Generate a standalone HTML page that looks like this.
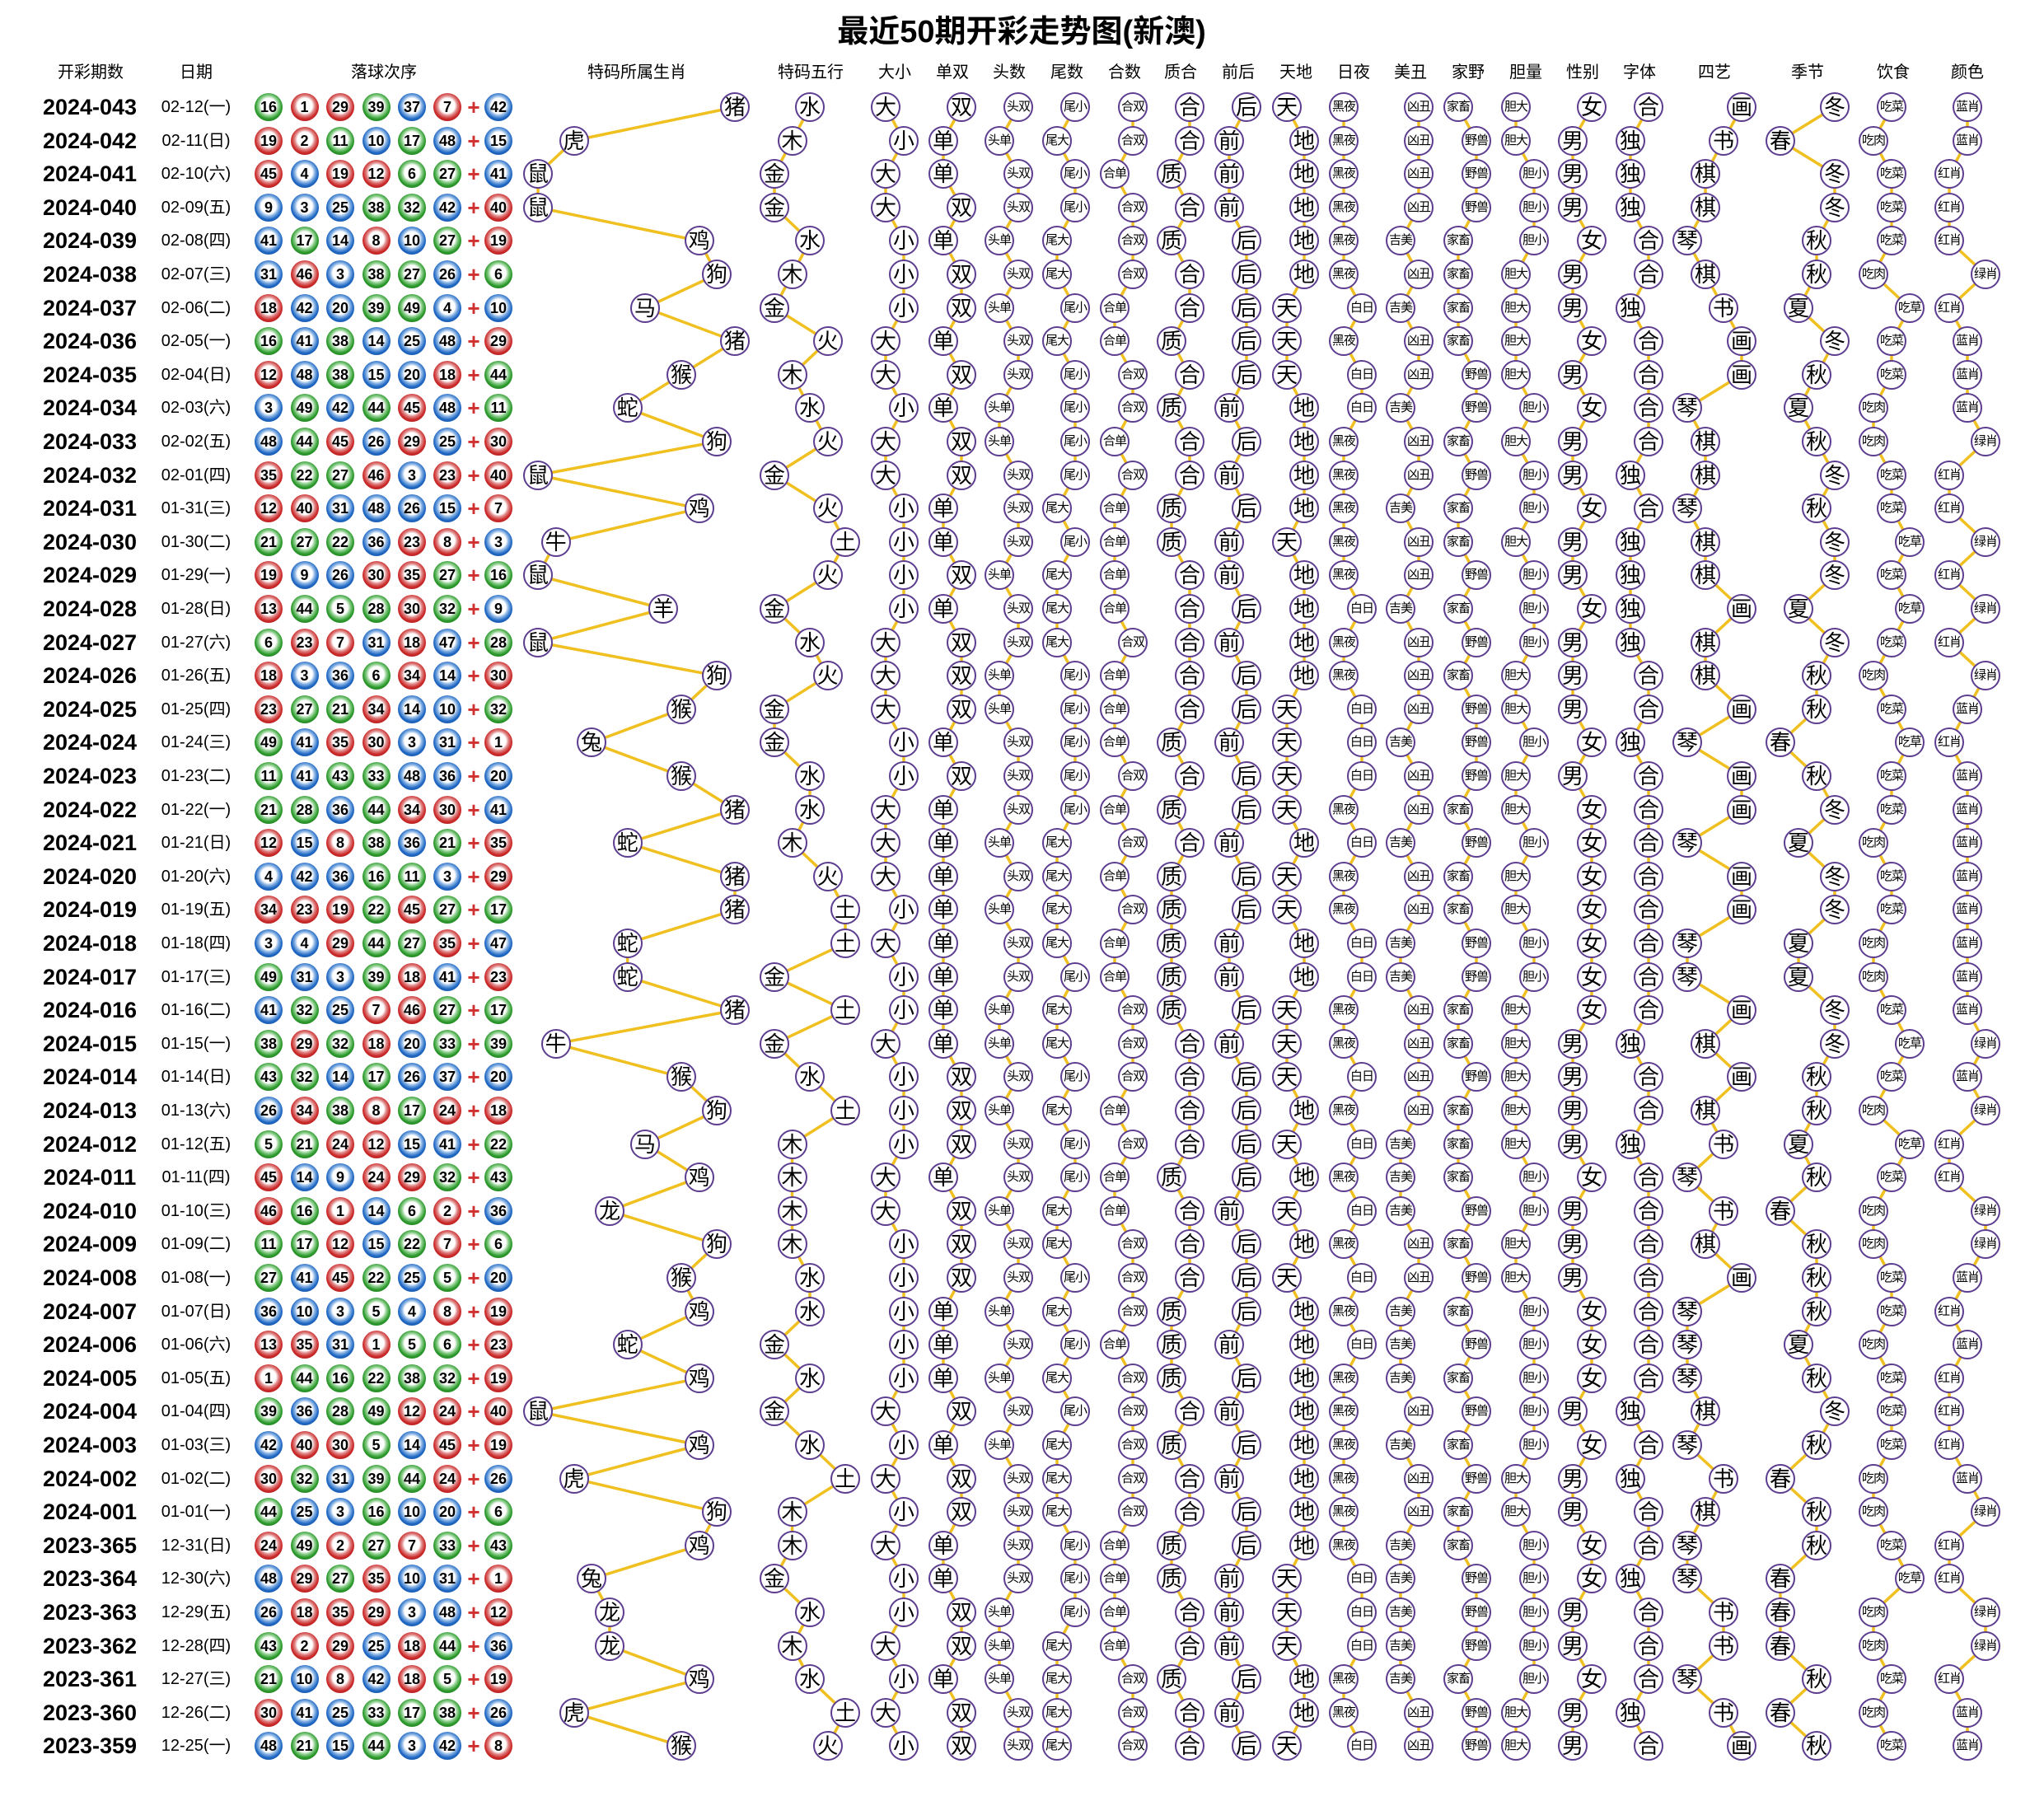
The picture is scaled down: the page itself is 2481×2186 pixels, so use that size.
<!DOCTYPE html>
<html><head><meta charset="utf-8">
<style>
body{margin:0;background:#fff;width:2481px;height:2186px;position:relative;overflow:hidden;font-family:"Liberation Sans","Noto Sans CJK SC",sans-serif;color:#000}
.t{position:absolute;left:940px;width:600px;top:14px;text-align:center;font:bold 38px/50px "Liberation Sans","Noto Sans CJK SC",sans-serif}
.h{position:absolute;top:76px;width:200px;margin-left:-100px;text-align:center;font:20px/24px "Liberation Sans","Noto Sans CJK SC",sans-serif}
svg{position:absolute;left:0;top:0}
svg polyline{fill:none;stroke:#f0c020;stroke-width:3.5px;vector-effect:non-scaling-stroke;stroke-linejoin:round}
.r{position:absolute;left:0;height:0;width:2481px}
.r *{position:absolute}
.p{left:39px;width:140px;top:-17px;text-align:center;font:bold 27px/34px "Liberation Sans",sans-serif}
.d{left:178px;width:120px;top:-14px;text-align:center;font:20px/28px "Liberation Sans","Noto Sans CJK SC",sans-serif}
.r u{text-decoration:none;width:34px;height:34px;top:-17px;margin-left:-17px;border-radius:50%;text-align:center;font:bold 18px/34px "Liberation Sans",sans-serif;color:#000}
.r u.R{background:radial-gradient(circle at 50% 45%,#fff 0,#fff 36%,#e08a8a 48%,#cc2a2a 64%,#8e1010 100%)}
.r u.U{background:radial-gradient(circle at 50% 45%,#fff 0,#fff 36%,#8ab4e4 48%,#2068c4 64%,#0f4282 100%)}
.r u.G{background:radial-gradient(circle at 50% 45%,#fff 0,#fff 36%,#90d090 48%,#2c9a2c 64%,#156015 100%)}
.r u:nth-of-type(1){left:326px}.r u:nth-of-type(2){left:369.5px}.r u:nth-of-type(3){left:413px}.r u:nth-of-type(4){left:456.5px}.r u:nth-of-type(5){left:500px}.r u:nth-of-type(6){left:543px}.r u:nth-of-type(7){left:605px}
.r s{text-decoration:none;left:565px;width:20px;top:-15px;text-align:center;color:#d03030;font:bold 26px/30px "Liberation Sans",sans-serif}
.r i{font-style:normal;width:32px;height:32px;top:-18px;margin-left:-18px;border:2px solid #5c3d8f;border-radius:50%;background:#fff;text-align:center;font:26px/32px "Liberation Sans","Noto Sans CJK SC",sans-serif;white-space:nowrap;overflow:hidden}
.Z0,.Z1,.Z2,.Z3,.Z4,.Z5,.Z6,.Z7,.Z8,.Z9,.Z10,.Z11,.G0,.G1,.O0,.O1{font-weight:bold}
.C0,.C1,.D0,.D1,.E0,.E1,.J0,.J1,.K0,.K1,.L0,.L1,.M0,.M1,.S0,.S1,.S2,.T0,.T1,.T2{font-size:15px!important;letter-spacing:-1px;font-weight:bold}
.J0,.J1,.K0,.K1,.M0,.M1,.T0,.T1,.T2{font-weight:normal}
.Z0{left:653px}.Z1{left:674.7px}.Z2{left:696.5px}.Z3{left:718px}.Z4{left:740px}.Z5{left:761.6px}.Z6{left:783px}.Z7{left:805px}.Z8{left:827px}.Z9{left:848.6px}.Z10{left:870px}.Z11{left:892px}
.W0{left:940px}.W1{left:961.5px}.W2{left:983px}.W3{left:1004.5px}.W4{left:1026px}
.A0{left:1075px}.A1{left:1097px}.B0{left:1145px}.B1{left:1167px}.C0{left:1213px}.C1{left:1236px}.D0{left:1283px}.D1{left:1305px}.E0{left:1353px}.E1{left:1375px}.F0{left:1422px}.F1{left:1444px}.G0{left:1492px}.G1{left:1513px}.H0{left:1562px}.H1{left:1583px}.J0{left:1631px}.J1{left:1653px}.K0{left:1700px}.K1{left:1722px}.L0{left:1770px}.L1{left:1792px}.M0{left:1840px}.M1{left:1862px}.N0{left:1909px}.N1{left:1932px}.O0{left:1979px}.O1{left:2001px}
.P0{left:2048px}.P1{left:2070px}.P2{left:2092px}.P3{left:2114px}.Q0{left:2161px}.Q1{left:2183px}.Q2{left:2205px}.Q3{left:2227px}.S0{left:2274px}.S1{left:2296px}.S2{left:2318px}.T0{left:2366px}.T1{left:2388px}.T2{left:2410px}
</style></head><body>
<div class="t">最近50期开彩走势图(新澳)</div>
<div class="h" style="left:110px">开彩期数</div><div class="h" style="left:238px">日期</div><div class="h" style="left:466px">落球次序</div><div class="h" style="left:773px">特码所属生肖</div><div class="h" style="left:984px">特码五行</div><div class="h" style="left:1086px">大小</div><div class="h" style="left:1156px">单双</div><div class="h" style="left:1225px">头数</div><div class="h" style="left:1295px">尾数</div><div class="h" style="left:1365px">合数</div><div class="h" style="left:1433px">质合</div><div class="h" style="left:1503px">前后</div><div class="h" style="left:1573px">天地</div><div class="h" style="left:1643px">日夜</div><div class="h" style="left:1712px">美丑</div><div class="h" style="left:1782px">家野</div><div class="h" style="left:1852px">胆量</div><div class="h" style="left:1921px">性别</div><div class="h" style="left:1990px">字体</div><div class="h" style="left:2081px">四艺</div><div class="h" style="left:2194px">季节</div><div class="h" style="left:2298px">饮食</div><div class="h" style="left:2388px">颜色</div>
<svg width="2481" height="2186">
<polyline transform="translate(653,130) scale(21.73,40.6)" points="11,0 2,1 0,2 0,3 9,4 10,5 6,6 11,7 8,8 5,9 10,10 0,11 9,12 1,13 0,14 7,15 0,16 10,17 8,18 3,19 8,20 11,21 5,22 11,23 11,24 5,25 5,26 11,27 1,28 8,29 10,30 6,31 9,32 4,33 10,34 8,35 9,36 5,37 9,38 0,39 9,40 2,41 10,42 9,43 3,44 4,45 4,46 9,47 2,48 8,49"/>
<polyline transform="translate(940,130) scale(21.5,40.6)" points="2,0 1,1 0,2 0,3 2,4 1,5 0,6 3,7 1,8 2,9 3,10 0,11 3,12 4,13 3,14 0,15 2,16 3,17 0,18 0,19 2,20 2,21 1,22 3,23 4,24 4,25 0,26 4,27 0,28 2,29 4,30 1,31 1,32 1,33 1,34 2,35 2,36 0,37 2,38 0,39 2,40 4,41 1,42 1,43 0,44 2,45 1,46 2,47 4,48 3,49"/>
<polyline transform="translate(1075,130) scale(22,40.6)" points="0,0 1,1 0,2 0,3 1,4 1,5 1,6 0,7 0,8 1,9 0,10 0,11 1,12 1,13 1,14 1,15 0,16 0,17 0,18 1,19 1,20 0,21 0,22 0,23 1,24 0,25 1,26 1,27 0,28 1,29 1,30 1,31 0,32 0,33 1,34 1,35 1,36 1,37 1,38 0,39 1,40 0,41 1,42 0,43 1,44 1,45 0,46 1,47 0,48 1,49"/>
<polyline transform="translate(1145,130) scale(22,40.6)" points="1,0 0,1 0,2 1,3 0,4 1,5 1,6 0,7 1,8 0,9 1,10 1,11 0,12 0,13 1,14 0,15 1,16 1,17 1,18 0,19 1,20 0,21 0,22 0,23 0,24 0,25 0,26 0,27 0,28 1,29 1,30 1,31 0,32 1,33 1,34 1,35 0,36 0,37 0,38 1,39 0,40 1,41 1,42 0,43 0,44 1,45 1,46 0,47 1,48 1,49"/>
<polyline transform="translate(1213,130) scale(23,40.6)" points="1,0 0,1 1,2 1,3 0,4 1,5 0,6 1,7 1,8 0,9 0,10 1,11 1,12 1,13 0,14 1,15 1,16 0,17 0,18 1,19 1,20 1,21 0,22 1,23 0,24 1,25 1,26 0,27 0,28 1,29 0,30 1,31 1,32 0,33 1,34 1,35 0,36 1,37 0,38 1,39 0,40 1,41 1,42 1,43 1,44 0,45 0,46 0,47 1,48 1,49"/>
<polyline transform="translate(1283,130) scale(22,40.6)" points="1,0 0,1 1,2 1,3 0,4 0,5 1,6 0,7 1,8 1,9 1,10 1,11 0,12 1,13 0,14 0,15 0,16 1,17 1,18 1,19 1,20 1,21 0,22 0,23 0,24 0,25 1,26 0,27 0,28 1,29 0,30 1,31 1,32 0,33 0,34 1,35 0,36 1,37 0,38 1,39 0,40 0,41 0,42 1,43 1,44 1,45 0,46 0,47 0,48 0,49"/>
<polyline transform="translate(1353,130) scale(22,40.6)" points="1,0 1,1 0,2 1,3 1,4 1,5 0,6 0,7 1,8 1,9 0,10 1,11 0,12 0,13 0,14 0,15 1,16 0,17 0,18 0,19 1,20 0,21 1,22 0,23 1,24 0,25 0,26 1,27 1,28 1,29 0,30 1,31 0,32 0,33 1,34 1,35 1,36 0,37 1,38 1,39 1,40 1,41 1,42 0,43 0,44 0,45 0,46 1,47 1,48 1,49"/>
<polyline transform="translate(1422,130) scale(22,40.6)" points="1,0 1,1 0,2 1,3 0,4 1,5 1,6 0,7 1,8 0,9 1,10 1,11 0,12 0,13 1,14 1,15 1,16 1,17 1,18 0,19 1,20 0,21 1,22 0,23 0,24 0,25 0,26 0,27 1,28 1,29 1,30 1,31 0,32 1,33 1,34 1,35 0,36 0,37 0,38 1,39 0,40 1,41 1,42 0,43 0,44 1,45 1,46 0,47 1,48 1,49"/>
<polyline transform="translate(1492,130) scale(21,40.6)" points="1,0 0,1 0,2 0,3 1,4 1,5 1,6 1,7 1,8 0,9 1,10 0,11 1,12 0,13 0,14 1,15 0,16 1,17 1,18 0,19 1,20 1,21 0,22 1,23 1,24 0,25 0,26 1,27 0,28 1,29 1,30 1,31 1,32 0,33 1,34 1,35 1,36 0,37 1,38 0,39 1,40 0,41 1,42 1,43 0,44 0,45 0,46 1,47 0,48 1,49"/>
<polyline transform="translate(1562,130) scale(21,40.6)" points="0,0 1,1 1,2 1,3 1,4 1,5 0,6 0,7 0,8 1,9 1,10 1,11 1,12 0,13 1,14 1,15 1,16 1,17 0,18 0,19 0,20 0,21 1,22 0,23 0,24 1,25 1,26 0,27 0,28 0,29 1,30 0,31 1,32 0,33 1,34 0,35 1,36 1,37 1,38 1,39 1,40 1,41 1,42 1,43 0,44 0,45 0,46 1,47 1,48 0,49"/>
<polyline transform="translate(1631,130) scale(22,40.6)" points="0,0 0,1 0,2 0,3 0,4 0,5 1,6 0,7 1,8 1,9 0,10 0,11 0,12 0,13 0,14 1,15 0,16 0,17 1,18 1,19 1,20 0,21 1,22 0,23 0,24 1,25 1,26 0,27 0,28 1,29 0,30 1,31 0,32 1,33 0,34 1,35 0,36 1,37 0,38 0,39 0,40 0,41 0,42 0,43 1,44 1,45 1,46 0,47 0,48 1,49"/>
<polyline transform="translate(1700,130) scale(22,40.6)" points="1,0 1,1 1,2 1,3 0,4 1,5 0,6 1,7 1,8 0,9 1,10 1,11 0,12 1,13 1,14 0,15 1,16 1,17 1,18 0,19 1,20 1,21 0,22 1,23 1,24 0,25 0,26 1,27 1,28 1,29 1,30 0,31 0,32 0,33 1,34 1,35 0,36 0,37 0,38 1,39 0,40 1,41 1,42 0,43 0,44 0,45 0,46 0,47 1,48 1,49"/>
<polyline transform="translate(1770,130) scale(22,40.6)" points="0,0 1,1 1,2 1,3 0,4 0,5 0,6 0,7 1,8 1,9 0,10 1,11 0,12 0,13 1,14 0,15 1,16 0,17 1,18 1,19 1,20 0,21 1,22 0,23 0,24 1,25 1,26 0,27 0,28 1,29 0,30 0,31 0,32 1,33 0,34 1,35 0,36 1,37 0,38 1,39 0,40 1,41 0,42 0,43 1,44 1,45 1,46 0,47 1,48 1,49"/>
<polyline transform="translate(1840,130) scale(22,40.6)" points="0,0 0,1 1,2 1,3 1,4 0,5 0,6 0,7 0,8 1,9 0,10 1,11 1,12 0,13 1,14 1,15 1,16 0,17 0,18 1,19 0,20 0,21 1,22 0,23 0,24 1,25 1,26 0,27 0,28 0,29 0,30 0,31 1,32 1,33 0,34 0,35 1,36 1,37 1,38 1,39 1,40 0,41 0,42 1,43 1,44 1,45 1,46 1,47 0,48 0,49"/>
<polyline transform="translate(1909,130) scale(23,40.6)" points="1,0 0,1 0,2 0,3 1,4 0,5 0,6 1,7 0,8 1,9 0,10 0,11 1,12 0,13 0,14 1,15 0,16 0,17 0,18 1,19 0,20 1,21 1,22 1,23 1,24 1,25 1,26 1,27 0,28 0,29 0,30 0,31 1,32 0,33 0,34 0,35 1,36 1,37 1,38 0,39 1,40 0,41 0,42 1,43 1,44 0,45 0,46 1,47 0,48 0,49"/>
<polyline transform="translate(1979,130) scale(22,40.6)" points="1,0 0,1 0,2 0,3 1,4 1,5 0,6 1,7 1,8 1,9 1,10 0,11 1,12 0,13 0,14 0,15 0,16 1,17 1,18 0,19 1,20 1,21 1,22 1,23 1,24 1,25 1,26 1,27 0,28 1,29 1,30 0,31 1,32 1,33 1,34 1,35 1,36 1,37 1,38 0,39 1,40 0,41 1,42 1,43 0,44 1,45 1,46 1,47 0,48 1,49"/>
<polyline transform="translate(2048,130) scale(22,40.6)" points="3,0 2,1 1,2 1,3 0,4 1,5 2,6 3,7 3,8 0,9 1,10 1,11 0,12 1,13 1,14 3,15 1,16 1,17 3,18 0,19 3,20 3,21 0,22 3,23 3,24 0,25 0,26 3,27 1,28 3,29 1,30 2,31 0,32 2,33 1,34 3,35 0,36 0,37 0,38 1,39 0,40 2,41 1,42 0,43 0,44 2,45 2,46 0,47 2,48 3,49"/>
<polyline transform="translate(2161,130) scale(22,40.6)" points="3,0 0,1 3,2 3,3 2,4 2,5 1,6 3,7 2,8 1,9 2,10 3,11 2,12 3,13 3,14 1,15 3,16 2,17 2,18 0,19 2,20 3,21 1,22 3,23 3,24 1,25 1,26 3,27 3,28 2,29 2,30 1,31 2,32 0,33 2,34 2,35 2,36 1,37 2,38 3,39 2,40 0,41 2,42 2,43 0,44 0,45 0,46 2,47 0,48 2,49"/>
<polyline transform="translate(2274,130) scale(22,40.6)" points="1,0 0,1 1,2 1,3 1,4 0,5 2,6 1,7 1,8 0,9 0,10 1,11 1,12 2,13 1,14 2,15 1,16 0,17 1,18 2,19 1,20 1,21 0,22 1,23 1,24 0,25 0,26 1,27 2,28 1,29 0,30 2,31 1,32 0,33 0,34 1,35 1,36 0,37 1,38 1,39 1,40 0,41 0,42 1,43 2,44 0,45 0,46 1,47 0,48 1,49"/>
<polyline transform="translate(2366,130) scale(22,40.6)" points="1,0 1,1 0,2 0,3 0,4 2,5 0,6 1,7 1,8 1,9 2,10 0,11 0,12 2,13 0,14 2,15 0,16 2,17 1,18 0,19 1,20 1,21 1,22 1,23 1,24 1,25 1,26 1,27 2,28 1,29 2,30 0,31 0,32 2,33 2,34 1,35 0,36 1,37 0,38 0,39 0,40 1,41 2,42 0,43 0,44 2,45 2,46 0,47 1,48 1,49"/>
</svg>

<div class="r" style="top:130px"><b class="p">2024-043</b><b class="d">02-12(一)</b><u class="G">16</u><u class="R">1</u><u class="R">29</u><u class="G">39</u><u class="U">37</u><u class="R">7</u><s>+</s><u class="U">42</u><i class="Z11">猪</i><i class="W2">水</i><i class="A0">大</i><i class="B1">双</i><i class="C1">头双</i><i class="D1">尾小</i><i class="E1">合双</i><i class="F1">合</i><i class="G1">后</i><i class="H0">天</i><i class="J0">黑夜</i><i class="K1">凶丑</i><i class="L0">家畜</i><i class="M0">胆大</i><i class="N1">女</i><i class="O1">合</i><i class="P3">画</i><i class="Q3">冬</i><i class="S1">吃菜</i><i class="T1">蓝肖</i></div>
<div class="r" style="top:170.6px"><b class="p">2024-042</b><b class="d">02-11(日)</b><u class="R">19</u><u class="R">2</u><u class="G">11</u><u class="U">10</u><u class="G">17</u><u class="U">48</u><s>+</s><u class="U">15</u><i class="Z2">虎</i><i class="W1">木</i><i class="A1">小</i><i class="B0">单</i><i class="C0">头单</i><i class="D0">尾大</i><i class="E1">合双</i><i class="F1">合</i><i class="G0">前</i><i class="H1">地</i><i class="J0">黑夜</i><i class="K1">凶丑</i><i class="L1">野兽</i><i class="M0">胆大</i><i class="N0">男</i><i class="O0">独</i><i class="P2">书</i><i class="Q0">春</i><i class="S0">吃肉</i><i class="T1">蓝肖</i></div>
<div class="r" style="top:211.2px"><b class="p">2024-041</b><b class="d">02-10(六)</b><u class="R">45</u><u class="U">4</u><u class="R">19</u><u class="R">12</u><u class="G">6</u><u class="G">27</u><s>+</s><u class="U">41</u><i class="Z0">鼠</i><i class="W0">金</i><i class="A0">大</i><i class="B0">单</i><i class="C1">头双</i><i class="D1">尾小</i><i class="E0">合单</i><i class="F0">质</i><i class="G0">前</i><i class="H1">地</i><i class="J0">黑夜</i><i class="K1">凶丑</i><i class="L1">野兽</i><i class="M1">胆小</i><i class="N0">男</i><i class="O0">独</i><i class="P1">棋</i><i class="Q3">冬</i><i class="S1">吃菜</i><i class="T0">红肖</i></div>
<div class="r" style="top:251.8px"><b class="p">2024-040</b><b class="d">02-09(五)</b><u class="U">9</u><u class="U">3</u><u class="U">25</u><u class="G">38</u><u class="G">32</u><u class="U">42</u><s>+</s><u class="R">40</u><i class="Z0">鼠</i><i class="W0">金</i><i class="A0">大</i><i class="B1">双</i><i class="C1">头双</i><i class="D1">尾小</i><i class="E1">合双</i><i class="F1">合</i><i class="G0">前</i><i class="H1">地</i><i class="J0">黑夜</i><i class="K1">凶丑</i><i class="L1">野兽</i><i class="M1">胆小</i><i class="N0">男</i><i class="O0">独</i><i class="P1">棋</i><i class="Q3">冬</i><i class="S1">吃菜</i><i class="T0">红肖</i></div>
<div class="r" style="top:292.4px"><b class="p">2024-039</b><b class="d">02-08(四)</b><u class="U">41</u><u class="G">17</u><u class="U">14</u><u class="R">8</u><u class="U">10</u><u class="G">27</u><s>+</s><u class="R">19</u><i class="Z9">鸡</i><i class="W2">水</i><i class="A1">小</i><i class="B0">单</i><i class="C0">头单</i><i class="D0">尾大</i><i class="E1">合双</i><i class="F0">质</i><i class="G1">后</i><i class="H1">地</i><i class="J0">黑夜</i><i class="K0">吉美</i><i class="L0">家畜</i><i class="M1">胆小</i><i class="N1">女</i><i class="O1">合</i><i class="P0">琴</i><i class="Q2">秋</i><i class="S1">吃菜</i><i class="T0">红肖</i></div>
<div class="r" style="top:333px"><b class="p">2024-038</b><b class="d">02-07(三)</b><u class="U">31</u><u class="R">46</u><u class="U">3</u><u class="G">38</u><u class="G">27</u><u class="U">26</u><s>+</s><u class="G">6</u><i class="Z10">狗</i><i class="W1">木</i><i class="A1">小</i><i class="B1">双</i><i class="C1">头双</i><i class="D0">尾大</i><i class="E1">合双</i><i class="F1">合</i><i class="G1">后</i><i class="H1">地</i><i class="J0">黑夜</i><i class="K1">凶丑</i><i class="L0">家畜</i><i class="M0">胆大</i><i class="N0">男</i><i class="O1">合</i><i class="P1">棋</i><i class="Q2">秋</i><i class="S0">吃肉</i><i class="T2">绿肖</i></div>
<div class="r" style="top:373.6px"><b class="p">2024-037</b><b class="d">02-06(二)</b><u class="R">18</u><u class="U">42</u><u class="U">20</u><u class="G">39</u><u class="G">49</u><u class="U">4</u><s>+</s><u class="U">10</u><i class="Z6">马</i><i class="W0">金</i><i class="A1">小</i><i class="B1">双</i><i class="C0">头单</i><i class="D1">尾小</i><i class="E0">合单</i><i class="F1">合</i><i class="G1">后</i><i class="H0">天</i><i class="J1">白日</i><i class="K0">吉美</i><i class="L0">家畜</i><i class="M0">胆大</i><i class="N0">男</i><i class="O0">独</i><i class="P2">书</i><i class="Q1">夏</i><i class="S2">吃草</i><i class="T0">红肖</i></div>
<div class="r" style="top:414.2px"><b class="p">2024-036</b><b class="d">02-05(一)</b><u class="G">16</u><u class="U">41</u><u class="G">38</u><u class="U">14</u><u class="U">25</u><u class="U">48</u><s>+</s><u class="R">29</u><i class="Z11">猪</i><i class="W3">火</i><i class="A0">大</i><i class="B0">单</i><i class="C1">头双</i><i class="D0">尾大</i><i class="E0">合单</i><i class="F0">质</i><i class="G1">后</i><i class="H0">天</i><i class="J0">黑夜</i><i class="K1">凶丑</i><i class="L0">家畜</i><i class="M0">胆大</i><i class="N1">女</i><i class="O1">合</i><i class="P3">画</i><i class="Q3">冬</i><i class="S1">吃菜</i><i class="T1">蓝肖</i></div>
<div class="r" style="top:454.8px"><b class="p">2024-035</b><b class="d">02-04(日)</b><u class="R">12</u><u class="U">48</u><u class="G">38</u><u class="U">15</u><u class="U">20</u><u class="R">18</u><s>+</s><u class="G">44</u><i class="Z8">猴</i><i class="W1">木</i><i class="A0">大</i><i class="B1">双</i><i class="C1">头双</i><i class="D1">尾小</i><i class="E1">合双</i><i class="F1">合</i><i class="G1">后</i><i class="H0">天</i><i class="J1">白日</i><i class="K1">凶丑</i><i class="L1">野兽</i><i class="M0">胆大</i><i class="N0">男</i><i class="O1">合</i><i class="P3">画</i><i class="Q2">秋</i><i class="S1">吃菜</i><i class="T1">蓝肖</i></div>
<div class="r" style="top:495.4px"><b class="p">2024-034</b><b class="d">02-03(六)</b><u class="U">3</u><u class="G">49</u><u class="U">42</u><u class="G">44</u><u class="R">45</u><u class="U">48</u><s>+</s><u class="G">11</u><i class="Z5">蛇</i><i class="W2">水</i><i class="A1">小</i><i class="B0">单</i><i class="C0">头单</i><i class="D1">尾小</i><i class="E1">合双</i><i class="F0">质</i><i class="G0">前</i><i class="H1">地</i><i class="J1">白日</i><i class="K0">吉美</i><i class="L1">野兽</i><i class="M1">胆小</i><i class="N1">女</i><i class="O1">合</i><i class="P0">琴</i><i class="Q1">夏</i><i class="S0">吃肉</i><i class="T1">蓝肖</i></div>
<div class="r" style="top:536px"><b class="p">2024-033</b><b class="d">02-02(五)</b><u class="U">48</u><u class="G">44</u><u class="R">45</u><u class="U">26</u><u class="R">29</u><u class="U">25</u><s>+</s><u class="R">30</u><i class="Z10">狗</i><i class="W3">火</i><i class="A0">大</i><i class="B1">双</i><i class="C0">头单</i><i class="D1">尾小</i><i class="E0">合单</i><i class="F1">合</i><i class="G1">后</i><i class="H1">地</i><i class="J0">黑夜</i><i class="K1">凶丑</i><i class="L0">家畜</i><i class="M0">胆大</i><i class="N0">男</i><i class="O1">合</i><i class="P1">棋</i><i class="Q2">秋</i><i class="S0">吃肉</i><i class="T2">绿肖</i></div>
<div class="r" style="top:576.6px"><b class="p">2024-032</b><b class="d">02-01(四)</b><u class="R">35</u><u class="G">22</u><u class="G">27</u><u class="R">46</u><u class="U">3</u><u class="R">23</u><s>+</s><u class="R">40</u><i class="Z0">鼠</i><i class="W0">金</i><i class="A0">大</i><i class="B1">双</i><i class="C1">头双</i><i class="D1">尾小</i><i class="E1">合双</i><i class="F1">合</i><i class="G0">前</i><i class="H1">地</i><i class="J0">黑夜</i><i class="K1">凶丑</i><i class="L1">野兽</i><i class="M1">胆小</i><i class="N0">男</i><i class="O0">独</i><i class="P1">棋</i><i class="Q3">冬</i><i class="S1">吃菜</i><i class="T0">红肖</i></div>
<div class="r" style="top:617.2px"><b class="p">2024-031</b><b class="d">01-31(三)</b><u class="R">12</u><u class="R">40</u><u class="U">31</u><u class="U">48</u><u class="U">26</u><u class="U">15</u><s>+</s><u class="R">7</u><i class="Z9">鸡</i><i class="W3">火</i><i class="A1">小</i><i class="B0">单</i><i class="C1">头双</i><i class="D0">尾大</i><i class="E0">合单</i><i class="F0">质</i><i class="G1">后</i><i class="H1">地</i><i class="J0">黑夜</i><i class="K0">吉美</i><i class="L0">家畜</i><i class="M1">胆小</i><i class="N1">女</i><i class="O1">合</i><i class="P0">琴</i><i class="Q2">秋</i><i class="S1">吃菜</i><i class="T0">红肖</i></div>
<div class="r" style="top:657.8px"><b class="p">2024-030</b><b class="d">01-30(二)</b><u class="G">21</u><u class="G">27</u><u class="G">22</u><u class="U">36</u><u class="R">23</u><u class="R">8</u><s>+</s><u class="U">3</u><i class="Z1">牛</i><i class="W4">土</i><i class="A1">小</i><i class="B0">单</i><i class="C1">头双</i><i class="D1">尾小</i><i class="E0">合单</i><i class="F0">质</i><i class="G0">前</i><i class="H0">天</i><i class="J0">黑夜</i><i class="K1">凶丑</i><i class="L0">家畜</i><i class="M0">胆大</i><i class="N0">男</i><i class="O0">独</i><i class="P1">棋</i><i class="Q3">冬</i><i class="S2">吃草</i><i class="T2">绿肖</i></div>
<div class="r" style="top:698.4px"><b class="p">2024-029</b><b class="d">01-29(一)</b><u class="R">19</u><u class="U">9</u><u class="U">26</u><u class="R">30</u><u class="R">35</u><u class="G">27</u><s>+</s><u class="G">16</u><i class="Z0">鼠</i><i class="W3">火</i><i class="A1">小</i><i class="B1">双</i><i class="C0">头单</i><i class="D0">尾大</i><i class="E0">合单</i><i class="F1">合</i><i class="G0">前</i><i class="H1">地</i><i class="J0">黑夜</i><i class="K1">凶丑</i><i class="L1">野兽</i><i class="M1">胆小</i><i class="N0">男</i><i class="O0">独</i><i class="P1">棋</i><i class="Q3">冬</i><i class="S1">吃菜</i><i class="T0">红肖</i></div>
<div class="r" style="top:739px"><b class="p">2024-028</b><b class="d">01-28(日)</b><u class="R">13</u><u class="G">44</u><u class="G">5</u><u class="G">28</u><u class="R">30</u><u class="G">32</u><s>+</s><u class="U">9</u><i class="Z7">羊</i><i class="W0">金</i><i class="A1">小</i><i class="B0">单</i><i class="C1">头双</i><i class="D0">尾大</i><i class="E0">合单</i><i class="F1">合</i><i class="G1">后</i><i class="H1">地</i><i class="J1">白日</i><i class="K0">吉美</i><i class="L0">家畜</i><i class="M1">胆小</i><i class="N1">女</i><i class="O0">独</i><i class="P3">画</i><i class="Q1">夏</i><i class="S2">吃草</i><i class="T2">绿肖</i></div>
<div class="r" style="top:779.6px"><b class="p">2024-027</b><b class="d">01-27(六)</b><u class="G">6</u><u class="R">23</u><u class="R">7</u><u class="U">31</u><u class="R">18</u><u class="U">47</u><s>+</s><u class="G">28</u><i class="Z0">鼠</i><i class="W2">水</i><i class="A0">大</i><i class="B1">双</i><i class="C1">头双</i><i class="D0">尾大</i><i class="E1">合双</i><i class="F1">合</i><i class="G0">前</i><i class="H1">地</i><i class="J0">黑夜</i><i class="K1">凶丑</i><i class="L1">野兽</i><i class="M1">胆小</i><i class="N0">男</i><i class="O0">独</i><i class="P1">棋</i><i class="Q3">冬</i><i class="S1">吃菜</i><i class="T0">红肖</i></div>
<div class="r" style="top:820.2px"><b class="p">2024-026</b><b class="d">01-26(五)</b><u class="R">18</u><u class="U">3</u><u class="U">36</u><u class="G">6</u><u class="R">34</u><u class="U">14</u><s>+</s><u class="R">30</u><i class="Z10">狗</i><i class="W3">火</i><i class="A0">大</i><i class="B1">双</i><i class="C0">头单</i><i class="D1">尾小</i><i class="E0">合单</i><i class="F1">合</i><i class="G1">后</i><i class="H1">地</i><i class="J0">黑夜</i><i class="K1">凶丑</i><i class="L0">家畜</i><i class="M0">胆大</i><i class="N0">男</i><i class="O1">合</i><i class="P1">棋</i><i class="Q2">秋</i><i class="S0">吃肉</i><i class="T2">绿肖</i></div>
<div class="r" style="top:860.8px"><b class="p">2024-025</b><b class="d">01-25(四)</b><u class="R">23</u><u class="G">27</u><u class="G">21</u><u class="R">34</u><u class="U">14</u><u class="U">10</u><s>+</s><u class="G">32</u><i class="Z8">猴</i><i class="W0">金</i><i class="A0">大</i><i class="B1">双</i><i class="C0">头单</i><i class="D1">尾小</i><i class="E0">合单</i><i class="F1">合</i><i class="G1">后</i><i class="H0">天</i><i class="J1">白日</i><i class="K1">凶丑</i><i class="L1">野兽</i><i class="M0">胆大</i><i class="N0">男</i><i class="O1">合</i><i class="P3">画</i><i class="Q2">秋</i><i class="S1">吃菜</i><i class="T1">蓝肖</i></div>
<div class="r" style="top:901.4px"><b class="p">2024-024</b><b class="d">01-24(三)</b><u class="G">49</u><u class="U">41</u><u class="R">35</u><u class="R">30</u><u class="U">3</u><u class="U">31</u><s>+</s><u class="R">1</u><i class="Z3">兔</i><i class="W0">金</i><i class="A1">小</i><i class="B0">单</i><i class="C1">头双</i><i class="D1">尾小</i><i class="E0">合单</i><i class="F0">质</i><i class="G0">前</i><i class="H0">天</i><i class="J1">白日</i><i class="K0">吉美</i><i class="L1">野兽</i><i class="M1">胆小</i><i class="N1">女</i><i class="O0">独</i><i class="P0">琴</i><i class="Q0">春</i><i class="S2">吃草</i><i class="T0">红肖</i></div>
<div class="r" style="top:942px"><b class="p">2024-023</b><b class="d">01-23(二)</b><u class="G">11</u><u class="U">41</u><u class="G">43</u><u class="G">33</u><u class="U">48</u><u class="U">36</u><s>+</s><u class="U">20</u><i class="Z8">猴</i><i class="W2">水</i><i class="A1">小</i><i class="B1">双</i><i class="C1">头双</i><i class="D1">尾小</i><i class="E1">合双</i><i class="F1">合</i><i class="G1">后</i><i class="H0">天</i><i class="J1">白日</i><i class="K1">凶丑</i><i class="L1">野兽</i><i class="M0">胆大</i><i class="N0">男</i><i class="O1">合</i><i class="P3">画</i><i class="Q2">秋</i><i class="S1">吃菜</i><i class="T1">蓝肖</i></div>
<div class="r" style="top:982.6px"><b class="p">2024-022</b><b class="d">01-22(一)</b><u class="G">21</u><u class="G">28</u><u class="U">36</u><u class="G">44</u><u class="R">34</u><u class="R">30</u><s>+</s><u class="U">41</u><i class="Z11">猪</i><i class="W2">水</i><i class="A0">大</i><i class="B0">单</i><i class="C1">头双</i><i class="D1">尾小</i><i class="E0">合单</i><i class="F0">质</i><i class="G1">后</i><i class="H0">天</i><i class="J0">黑夜</i><i class="K1">凶丑</i><i class="L0">家畜</i><i class="M0">胆大</i><i class="N1">女</i><i class="O1">合</i><i class="P3">画</i><i class="Q3">冬</i><i class="S1">吃菜</i><i class="T1">蓝肖</i></div>
<div class="r" style="top:1023.2px"><b class="p">2024-021</b><b class="d">01-21(日)</b><u class="R">12</u><u class="U">15</u><u class="R">8</u><u class="G">38</u><u class="U">36</u><u class="G">21</u><s>+</s><u class="R">35</u><i class="Z5">蛇</i><i class="W1">木</i><i class="A0">大</i><i class="B0">单</i><i class="C0">头单</i><i class="D0">尾大</i><i class="E1">合双</i><i class="F1">合</i><i class="G0">前</i><i class="H1">地</i><i class="J1">白日</i><i class="K0">吉美</i><i class="L1">野兽</i><i class="M1">胆小</i><i class="N1">女</i><i class="O1">合</i><i class="P0">琴</i><i class="Q1">夏</i><i class="S0">吃肉</i><i class="T1">蓝肖</i></div>
<div class="r" style="top:1063.8px"><b class="p">2024-020</b><b class="d">01-20(六)</b><u class="U">4</u><u class="U">42</u><u class="U">36</u><u class="G">16</u><u class="G">11</u><u class="U">3</u><s>+</s><u class="R">29</u><i class="Z11">猪</i><i class="W3">火</i><i class="A0">大</i><i class="B0">单</i><i class="C1">头双</i><i class="D0">尾大</i><i class="E0">合单</i><i class="F0">质</i><i class="G1">后</i><i class="H0">天</i><i class="J0">黑夜</i><i class="K1">凶丑</i><i class="L0">家畜</i><i class="M0">胆大</i><i class="N1">女</i><i class="O1">合</i><i class="P3">画</i><i class="Q3">冬</i><i class="S1">吃菜</i><i class="T1">蓝肖</i></div>
<div class="r" style="top:1104.4px"><b class="p">2024-019</b><b class="d">01-19(五)</b><u class="R">34</u><u class="R">23</u><u class="R">19</u><u class="G">22</u><u class="R">45</u><u class="G">27</u><s>+</s><u class="G">17</u><i class="Z11">猪</i><i class="W4">土</i><i class="A1">小</i><i class="B0">单</i><i class="C0">头单</i><i class="D0">尾大</i><i class="E1">合双</i><i class="F0">质</i><i class="G1">后</i><i class="H0">天</i><i class="J0">黑夜</i><i class="K1">凶丑</i><i class="L0">家畜</i><i class="M0">胆大</i><i class="N1">女</i><i class="O1">合</i><i class="P3">画</i><i class="Q3">冬</i><i class="S1">吃菜</i><i class="T1">蓝肖</i></div>
<div class="r" style="top:1145px"><b class="p">2024-018</b><b class="d">01-18(四)</b><u class="U">3</u><u class="U">4</u><u class="R">29</u><u class="G">44</u><u class="G">27</u><u class="R">35</u><s>+</s><u class="U">47</u><i class="Z5">蛇</i><i class="W4">土</i><i class="A0">大</i><i class="B0">单</i><i class="C1">头双</i><i class="D0">尾大</i><i class="E0">合单</i><i class="F0">质</i><i class="G0">前</i><i class="H1">地</i><i class="J1">白日</i><i class="K0">吉美</i><i class="L1">野兽</i><i class="M1">胆小</i><i class="N1">女</i><i class="O1">合</i><i class="P0">琴</i><i class="Q1">夏</i><i class="S0">吃肉</i><i class="T1">蓝肖</i></div>
<div class="r" style="top:1185.6px"><b class="p">2024-017</b><b class="d">01-17(三)</b><u class="G">49</u><u class="U">31</u><u class="U">3</u><u class="G">39</u><u class="R">18</u><u class="U">41</u><s>+</s><u class="R">23</u><i class="Z5">蛇</i><i class="W0">金</i><i class="A1">小</i><i class="B0">单</i><i class="C1">头双</i><i class="D1">尾小</i><i class="E0">合单</i><i class="F0">质</i><i class="G0">前</i><i class="H1">地</i><i class="J1">白日</i><i class="K0">吉美</i><i class="L1">野兽</i><i class="M1">胆小</i><i class="N1">女</i><i class="O1">合</i><i class="P0">琴</i><i class="Q1">夏</i><i class="S0">吃肉</i><i class="T1">蓝肖</i></div>
<div class="r" style="top:1226.2px"><b class="p">2024-016</b><b class="d">01-16(二)</b><u class="U">41</u><u class="G">32</u><u class="U">25</u><u class="R">7</u><u class="R">46</u><u class="G">27</u><s>+</s><u class="G">17</u><i class="Z11">猪</i><i class="W4">土</i><i class="A1">小</i><i class="B0">单</i><i class="C0">头单</i><i class="D0">尾大</i><i class="E1">合双</i><i class="F0">质</i><i class="G1">后</i><i class="H0">天</i><i class="J0">黑夜</i><i class="K1">凶丑</i><i class="L0">家畜</i><i class="M0">胆大</i><i class="N1">女</i><i class="O1">合</i><i class="P3">画</i><i class="Q3">冬</i><i class="S1">吃菜</i><i class="T1">蓝肖</i></div>
<div class="r" style="top:1266.8px"><b class="p">2024-015</b><b class="d">01-15(一)</b><u class="G">38</u><u class="R">29</u><u class="G">32</u><u class="R">18</u><u class="U">20</u><u class="G">33</u><s>+</s><u class="G">39</u><i class="Z1">牛</i><i class="W0">金</i><i class="A0">大</i><i class="B0">单</i><i class="C0">头单</i><i class="D0">尾大</i><i class="E1">合双</i><i class="F1">合</i><i class="G0">前</i><i class="H0">天</i><i class="J0">黑夜</i><i class="K1">凶丑</i><i class="L0">家畜</i><i class="M0">胆大</i><i class="N0">男</i><i class="O0">独</i><i class="P1">棋</i><i class="Q3">冬</i><i class="S2">吃草</i><i class="T2">绿肖</i></div>
<div class="r" style="top:1307.4px"><b class="p">2024-014</b><b class="d">01-14(日)</b><u class="G">43</u><u class="G">32</u><u class="U">14</u><u class="G">17</u><u class="U">26</u><u class="U">37</u><s>+</s><u class="U">20</u><i class="Z8">猴</i><i class="W2">水</i><i class="A1">小</i><i class="B1">双</i><i class="C1">头双</i><i class="D1">尾小</i><i class="E1">合双</i><i class="F1">合</i><i class="G1">后</i><i class="H0">天</i><i class="J1">白日</i><i class="K1">凶丑</i><i class="L1">野兽</i><i class="M0">胆大</i><i class="N0">男</i><i class="O1">合</i><i class="P3">画</i><i class="Q2">秋</i><i class="S1">吃菜</i><i class="T1">蓝肖</i></div>
<div class="r" style="top:1348px"><b class="p">2024-013</b><b class="d">01-13(六)</b><u class="U">26</u><u class="R">34</u><u class="G">38</u><u class="R">8</u><u class="G">17</u><u class="R">24</u><s>+</s><u class="R">18</u><i class="Z10">狗</i><i class="W4">土</i><i class="A1">小</i><i class="B1">双</i><i class="C0">头单</i><i class="D0">尾大</i><i class="E0">合单</i><i class="F1">合</i><i class="G1">后</i><i class="H1">地</i><i class="J0">黑夜</i><i class="K1">凶丑</i><i class="L0">家畜</i><i class="M0">胆大</i><i class="N0">男</i><i class="O1">合</i><i class="P1">棋</i><i class="Q2">秋</i><i class="S0">吃肉</i><i class="T2">绿肖</i></div>
<div class="r" style="top:1388.6px"><b class="p">2024-012</b><b class="d">01-12(五)</b><u class="G">5</u><u class="G">21</u><u class="R">24</u><u class="R">12</u><u class="U">15</u><u class="U">41</u><s>+</s><u class="G">22</u><i class="Z6">马</i><i class="W1">木</i><i class="A1">小</i><i class="B1">双</i><i class="C1">头双</i><i class="D1">尾小</i><i class="E1">合双</i><i class="F1">合</i><i class="G1">后</i><i class="H0">天</i><i class="J1">白日</i><i class="K0">吉美</i><i class="L0">家畜</i><i class="M0">胆大</i><i class="N0">男</i><i class="O0">独</i><i class="P2">书</i><i class="Q1">夏</i><i class="S2">吃草</i><i class="T0">红肖</i></div>
<div class="r" style="top:1429.2px"><b class="p">2024-011</b><b class="d">01-11(四)</b><u class="R">45</u><u class="U">14</u><u class="U">9</u><u class="R">24</u><u class="R">29</u><u class="G">32</u><s>+</s><u class="G">43</u><i class="Z9">鸡</i><i class="W1">木</i><i class="A0">大</i><i class="B0">单</i><i class="C1">头双</i><i class="D1">尾小</i><i class="E0">合单</i><i class="F0">质</i><i class="G1">后</i><i class="H1">地</i><i class="J0">黑夜</i><i class="K0">吉美</i><i class="L0">家畜</i><i class="M1">胆小</i><i class="N1">女</i><i class="O1">合</i><i class="P0">琴</i><i class="Q2">秋</i><i class="S1">吃菜</i><i class="T0">红肖</i></div>
<div class="r" style="top:1469.8px"><b class="p">2024-010</b><b class="d">01-10(三)</b><u class="R">46</u><u class="G">16</u><u class="R">1</u><u class="U">14</u><u class="G">6</u><u class="R">2</u><s>+</s><u class="U">36</u><i class="Z4">龙</i><i class="W1">木</i><i class="A0">大</i><i class="B1">双</i><i class="C0">头单</i><i class="D0">尾大</i><i class="E0">合单</i><i class="F1">合</i><i class="G0">前</i><i class="H0">天</i><i class="J1">白日</i><i class="K0">吉美</i><i class="L1">野兽</i><i class="M1">胆小</i><i class="N0">男</i><i class="O1">合</i><i class="P2">书</i><i class="Q0">春</i><i class="S0">吃肉</i><i class="T2">绿肖</i></div>
<div class="r" style="top:1510.4px"><b class="p">2024-009</b><b class="d">01-09(二)</b><u class="G">11</u><u class="G">17</u><u class="R">12</u><u class="U">15</u><u class="G">22</u><u class="R">7</u><s>+</s><u class="G">6</u><i class="Z10">狗</i><i class="W1">木</i><i class="A1">小</i><i class="B1">双</i><i class="C1">头双</i><i class="D0">尾大</i><i class="E1">合双</i><i class="F1">合</i><i class="G1">后</i><i class="H1">地</i><i class="J0">黑夜</i><i class="K1">凶丑</i><i class="L0">家畜</i><i class="M0">胆大</i><i class="N0">男</i><i class="O1">合</i><i class="P1">棋</i><i class="Q2">秋</i><i class="S0">吃肉</i><i class="T2">绿肖</i></div>
<div class="r" style="top:1551px"><b class="p">2024-008</b><b class="d">01-08(一)</b><u class="G">27</u><u class="U">41</u><u class="R">45</u><u class="G">22</u><u class="U">25</u><u class="G">5</u><s>+</s><u class="U">20</u><i class="Z8">猴</i><i class="W2">水</i><i class="A1">小</i><i class="B1">双</i><i class="C1">头双</i><i class="D1">尾小</i><i class="E1">合双</i><i class="F1">合</i><i class="G1">后</i><i class="H0">天</i><i class="J1">白日</i><i class="K1">凶丑</i><i class="L1">野兽</i><i class="M0">胆大</i><i class="N0">男</i><i class="O1">合</i><i class="P3">画</i><i class="Q2">秋</i><i class="S1">吃菜</i><i class="T1">蓝肖</i></div>
<div class="r" style="top:1591.6px"><b class="p">2024-007</b><b class="d">01-07(日)</b><u class="U">36</u><u class="U">10</u><u class="U">3</u><u class="G">5</u><u class="U">4</u><u class="R">8</u><s>+</s><u class="R">19</u><i class="Z9">鸡</i><i class="W2">水</i><i class="A1">小</i><i class="B0">单</i><i class="C0">头单</i><i class="D0">尾大</i><i class="E1">合双</i><i class="F0">质</i><i class="G1">后</i><i class="H1">地</i><i class="J0">黑夜</i><i class="K0">吉美</i><i class="L0">家畜</i><i class="M1">胆小</i><i class="N1">女</i><i class="O1">合</i><i class="P0">琴</i><i class="Q2">秋</i><i class="S1">吃菜</i><i class="T0">红肖</i></div>
<div class="r" style="top:1632.2px"><b class="p">2024-006</b><b class="d">01-06(六)</b><u class="R">13</u><u class="R">35</u><u class="U">31</u><u class="R">1</u><u class="G">5</u><u class="G">6</u><s>+</s><u class="R">23</u><i class="Z5">蛇</i><i class="W0">金</i><i class="A1">小</i><i class="B0">单</i><i class="C1">头双</i><i class="D1">尾小</i><i class="E0">合单</i><i class="F0">质</i><i class="G0">前</i><i class="H1">地</i><i class="J1">白日</i><i class="K0">吉美</i><i class="L1">野兽</i><i class="M1">胆小</i><i class="N1">女</i><i class="O1">合</i><i class="P0">琴</i><i class="Q1">夏</i><i class="S0">吃肉</i><i class="T1">蓝肖</i></div>
<div class="r" style="top:1672.8px"><b class="p">2024-005</b><b class="d">01-05(五)</b><u class="R">1</u><u class="G">44</u><u class="G">16</u><u class="G">22</u><u class="G">38</u><u class="G">32</u><s>+</s><u class="R">19</u><i class="Z9">鸡</i><i class="W2">水</i><i class="A1">小</i><i class="B0">单</i><i class="C0">头单</i><i class="D0">尾大</i><i class="E1">合双</i><i class="F0">质</i><i class="G1">后</i><i class="H1">地</i><i class="J0">黑夜</i><i class="K0">吉美</i><i class="L0">家畜</i><i class="M1">胆小</i><i class="N1">女</i><i class="O1">合</i><i class="P0">琴</i><i class="Q2">秋</i><i class="S1">吃菜</i><i class="T0">红肖</i></div>
<div class="r" style="top:1713.4px"><b class="p">2024-004</b><b class="d">01-04(四)</b><u class="G">39</u><u class="U">36</u><u class="G">28</u><u class="G">49</u><u class="R">12</u><u class="R">24</u><s>+</s><u class="R">40</u><i class="Z0">鼠</i><i class="W0">金</i><i class="A0">大</i><i class="B1">双</i><i class="C1">头双</i><i class="D1">尾小</i><i class="E1">合双</i><i class="F1">合</i><i class="G0">前</i><i class="H1">地</i><i class="J0">黑夜</i><i class="K1">凶丑</i><i class="L1">野兽</i><i class="M1">胆小</i><i class="N0">男</i><i class="O0">独</i><i class="P1">棋</i><i class="Q3">冬</i><i class="S1">吃菜</i><i class="T0">红肖</i></div>
<div class="r" style="top:1754px"><b class="p">2024-003</b><b class="d">01-03(三)</b><u class="U">42</u><u class="R">40</u><u class="R">30</u><u class="G">5</u><u class="U">14</u><u class="R">45</u><s>+</s><u class="R">19</u><i class="Z9">鸡</i><i class="W2">水</i><i class="A1">小</i><i class="B0">单</i><i class="C0">头单</i><i class="D0">尾大</i><i class="E1">合双</i><i class="F0">质</i><i class="G1">后</i><i class="H1">地</i><i class="J0">黑夜</i><i class="K0">吉美</i><i class="L0">家畜</i><i class="M1">胆小</i><i class="N1">女</i><i class="O1">合</i><i class="P0">琴</i><i class="Q2">秋</i><i class="S1">吃菜</i><i class="T0">红肖</i></div>
<div class="r" style="top:1794.6px"><b class="p">2024-002</b><b class="d">01-02(二)</b><u class="R">30</u><u class="G">32</u><u class="U">31</u><u class="G">39</u><u class="G">44</u><u class="R">24</u><s>+</s><u class="U">26</u><i class="Z2">虎</i><i class="W4">土</i><i class="A0">大</i><i class="B1">双</i><i class="C1">头双</i><i class="D0">尾大</i><i class="E1">合双</i><i class="F1">合</i><i class="G0">前</i><i class="H1">地</i><i class="J0">黑夜</i><i class="K1">凶丑</i><i class="L1">野兽</i><i class="M0">胆大</i><i class="N0">男</i><i class="O0">独</i><i class="P2">书</i><i class="Q0">春</i><i class="S0">吃肉</i><i class="T1">蓝肖</i></div>
<div class="r" style="top:1835.2px"><b class="p">2024-001</b><b class="d">01-01(一)</b><u class="G">44</u><u class="U">25</u><u class="U">3</u><u class="G">16</u><u class="U">10</u><u class="U">20</u><s>+</s><u class="G">6</u><i class="Z10">狗</i><i class="W1">木</i><i class="A1">小</i><i class="B1">双</i><i class="C1">头双</i><i class="D0">尾大</i><i class="E1">合双</i><i class="F1">合</i><i class="G1">后</i><i class="H1">地</i><i class="J0">黑夜</i><i class="K1">凶丑</i><i class="L0">家畜</i><i class="M0">胆大</i><i class="N0">男</i><i class="O1">合</i><i class="P1">棋</i><i class="Q2">秋</i><i class="S0">吃肉</i><i class="T2">绿肖</i></div>
<div class="r" style="top:1875.8px"><b class="p">2023-365</b><b class="d">12-31(日)</b><u class="R">24</u><u class="G">49</u><u class="R">2</u><u class="G">27</u><u class="R">7</u><u class="G">33</u><s>+</s><u class="G">43</u><i class="Z9">鸡</i><i class="W1">木</i><i class="A0">大</i><i class="B0">单</i><i class="C1">头双</i><i class="D1">尾小</i><i class="E0">合单</i><i class="F0">质</i><i class="G1">后</i><i class="H1">地</i><i class="J0">黑夜</i><i class="K0">吉美</i><i class="L0">家畜</i><i class="M1">胆小</i><i class="N1">女</i><i class="O1">合</i><i class="P0">琴</i><i class="Q2">秋</i><i class="S1">吃菜</i><i class="T0">红肖</i></div>
<div class="r" style="top:1916.4px"><b class="p">2023-364</b><b class="d">12-30(六)</b><u class="U">48</u><u class="R">29</u><u class="G">27</u><u class="R">35</u><u class="U">10</u><u class="U">31</u><s>+</s><u class="R">1</u><i class="Z3">兔</i><i class="W0">金</i><i class="A1">小</i><i class="B0">单</i><i class="C1">头双</i><i class="D1">尾小</i><i class="E0">合单</i><i class="F0">质</i><i class="G0">前</i><i class="H0">天</i><i class="J1">白日</i><i class="K0">吉美</i><i class="L1">野兽</i><i class="M1">胆小</i><i class="N1">女</i><i class="O0">独</i><i class="P0">琴</i><i class="Q0">春</i><i class="S2">吃草</i><i class="T0">红肖</i></div>
<div class="r" style="top:1957px"><b class="p">2023-363</b><b class="d">12-29(五)</b><u class="U">26</u><u class="R">18</u><u class="R">35</u><u class="R">29</u><u class="U">3</u><u class="U">48</u><s>+</s><u class="R">12</u><i class="Z4">龙</i><i class="W2">水</i><i class="A1">小</i><i class="B1">双</i><i class="C0">头单</i><i class="D1">尾小</i><i class="E0">合单</i><i class="F1">合</i><i class="G0">前</i><i class="H0">天</i><i class="J1">白日</i><i class="K0">吉美</i><i class="L1">野兽</i><i class="M1">胆小</i><i class="N0">男</i><i class="O1">合</i><i class="P2">书</i><i class="Q0">春</i><i class="S0">吃肉</i><i class="T2">绿肖</i></div>
<div class="r" style="top:1997.6px"><b class="p">2023-362</b><b class="d">12-28(四)</b><u class="G">43</u><u class="R">2</u><u class="R">29</u><u class="U">25</u><u class="R">18</u><u class="G">44</u><s>+</s><u class="U">36</u><i class="Z4">龙</i><i class="W1">木</i><i class="A0">大</i><i class="B1">双</i><i class="C0">头单</i><i class="D0">尾大</i><i class="E0">合单</i><i class="F1">合</i><i class="G0">前</i><i class="H0">天</i><i class="J1">白日</i><i class="K0">吉美</i><i class="L1">野兽</i><i class="M1">胆小</i><i class="N0">男</i><i class="O1">合</i><i class="P2">书</i><i class="Q0">春</i><i class="S0">吃肉</i><i class="T2">绿肖</i></div>
<div class="r" style="top:2038.2px"><b class="p">2023-361</b><b class="d">12-27(三)</b><u class="G">21</u><u class="U">10</u><u class="R">8</u><u class="U">42</u><u class="R">18</u><u class="G">5</u><s>+</s><u class="R">19</u><i class="Z9">鸡</i><i class="W2">水</i><i class="A1">小</i><i class="B0">单</i><i class="C0">头单</i><i class="D0">尾大</i><i class="E1">合双</i><i class="F0">质</i><i class="G1">后</i><i class="H1">地</i><i class="J0">黑夜</i><i class="K0">吉美</i><i class="L0">家畜</i><i class="M1">胆小</i><i class="N1">女</i><i class="O1">合</i><i class="P0">琴</i><i class="Q2">秋</i><i class="S1">吃菜</i><i class="T0">红肖</i></div>
<div class="r" style="top:2078.8px"><b class="p">2023-360</b><b class="d">12-26(二)</b><u class="R">30</u><u class="U">41</u><u class="U">25</u><u class="G">33</u><u class="G">17</u><u class="G">38</u><s>+</s><u class="U">26</u><i class="Z2">虎</i><i class="W4">土</i><i class="A0">大</i><i class="B1">双</i><i class="C1">头双</i><i class="D0">尾大</i><i class="E1">合双</i><i class="F1">合</i><i class="G0">前</i><i class="H1">地</i><i class="J0">黑夜</i><i class="K1">凶丑</i><i class="L1">野兽</i><i class="M0">胆大</i><i class="N0">男</i><i class="O0">独</i><i class="P2">书</i><i class="Q0">春</i><i class="S0">吃肉</i><i class="T1">蓝肖</i></div>
<div class="r" style="top:2119.4px"><b class="p">2023-359</b><b class="d">12-25(一)</b><u class="U">48</u><u class="G">21</u><u class="U">15</u><u class="G">44</u><u class="U">3</u><u class="U">42</u><s>+</s><u class="R">8</u><i class="Z8">猴</i><i class="W3">火</i><i class="A1">小</i><i class="B1">双</i><i class="C1">头双</i><i class="D0">尾大</i><i class="E1">合双</i><i class="F1">合</i><i class="G1">后</i><i class="H0">天</i><i class="J1">白日</i><i class="K1">凶丑</i><i class="L1">野兽</i><i class="M0">胆大</i><i class="N0">男</i><i class="O1">合</i><i class="P3">画</i><i class="Q2">秋</i><i class="S1">吃菜</i><i class="T1">蓝肖</i></div>
</body></html>
